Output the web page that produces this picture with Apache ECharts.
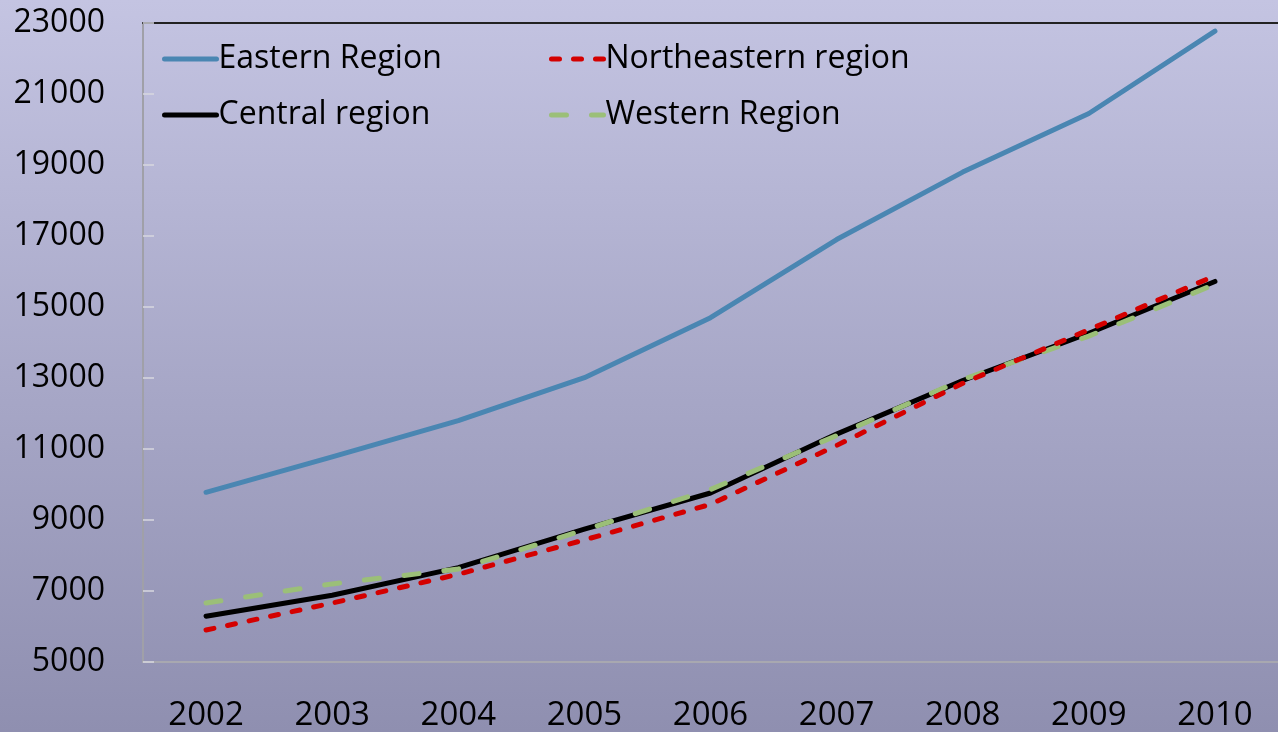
<!DOCTYPE html>
<html><head><meta charset="utf-8">
<script src="https://cdn.jsdelivr.net/npm/echarts@6/dist/echarts.min.js"></script>
<style>html,body{margin:0;padding:0;}#c{width:1278px;height:732px;}</style>
</head><body><div id="c"></div>
<script>
const years = ['2002','2003','2004','2005','2006','2007','2008','2009','2010'];
const eastern = [9780, 10780, 11800, 13010, 14700, 16900, 18800, 20450, 22770];
const northeastern = [5900, 6660, 7470, 8440, 9440, 11100, 12850, 14360, 15880];
const central = [6290, 6880, 7660, 8740, 9760, 11420, 12930, 14260, 15720];
const western = [6660, 7200, 7620, 8720, 9860, 11380, 12960, 14180, 15640];
const yTicks = {min: 5000, max: 23000, interval: 2000};

const FONT = 'Open Sans';
const chart = echarts.init(document.getElementById('c'));
const legendBase = {
  orient: 'horizontal', itemWidth: 52, itemHeight: 14, itemGap: 3,
  textStyle: {fontFamily: FONT, fontSize: 32, color: '#000', padding: [0,0,0,-3]},
  itemStyle: {opacity: 0},
  lineStyle: {width: 5, cap: 'round'},
  selectedMode: false, padding: 0
};
chart.setOption({
  backgroundColor: {
    type: 'linear', x: 0, y: 0, x2: 0, y2: 1,
    colorStops: [{offset: 0, color: '#c4c4e2'}, {offset: 0.55, color: '#a6a6c6'}, {offset: 1, color: '#8f8fb0'}]
  },
  animation: false,
  grid: {left: 143, right: -14, top: 23, bottom: 69},
  legend: [
    Object.assign({}, legendBase, {data: ['Eastern Region'], left: 162, top: 43}),
    Object.assign({}, legendBase, {data: ['Northeastern region'], left: 549, top: 43}),
    Object.assign({}, legendBase, {data: ['Central region'], left: 162, top: 99}),
    Object.assign({}, legendBase, {data: ['Western Region'], left: 549, top: 99})
  ],
  xAxis: [{
    type: 'category', data: years, boundaryGap: true,
    axisLine: {lineStyle: {color: '#a8a8b0', width: 2}},
    axisTick: {inside: true, length: 12, lineStyle: {color: '#d8d8e0', width: 1.5}},
    axisLabel: {fontFamily: FONT, fontSize: 33, color: '#000', margin: 37}
  }, {
    type: 'category', data: years, position: 'top',
    axisLine: {lineStyle: {color: '#222', width: 2}},
    axisTick: {show: false}, axisLabel: {show: false}
  }],
  yAxis: {
    type: 'value', min: yTicks.min, max: yTicks.max, interval: yTicks.interval,
    axisLine: {show: true, lineStyle: {color: '#a0a0a8', width: 2}},
    axisTick: {show: true, inside: true, length: 11, lineStyle: {color: '#d8d8e0', width: 1.5}},
    splitLine: {show: false},
    axisLabel: {fontFamily: FONT, fontSize: 32, color: '#000', margin: 38, formatter: v => String(v)}
  },
  series: [
    {name: 'Eastern Region', type: 'line', data: eastern, symbol: 'none',
     lineStyle: {color: '#4a86b2', width: 5, cap: 'round', join: 'round'}, itemStyle: {color: '#4a86b2'}},
    {name: 'Central region', type: 'line', data: central, symbol: 'none',
     lineStyle: {color: '#000', width: 5, cap: 'round', join: 'round'}, itemStyle: {color: '#000'}},
    {name: 'Western Region', type: 'line', data: western, symbol: 'none',
     lineStyle: {color: '#9bbf78', width: 5, type: [15, 25], cap: 'round'}, itemStyle: {color: '#9bbf78'}},
    {name: 'Northeastern region', type: 'line', data: northeastern, symbol: 'none',
     lineStyle: {color: '#d40000', width: 5, type: [8, 14], cap: 'round'}, itemStyle: {color: '#d40000'}}
  ]
});
</script></body></html>
